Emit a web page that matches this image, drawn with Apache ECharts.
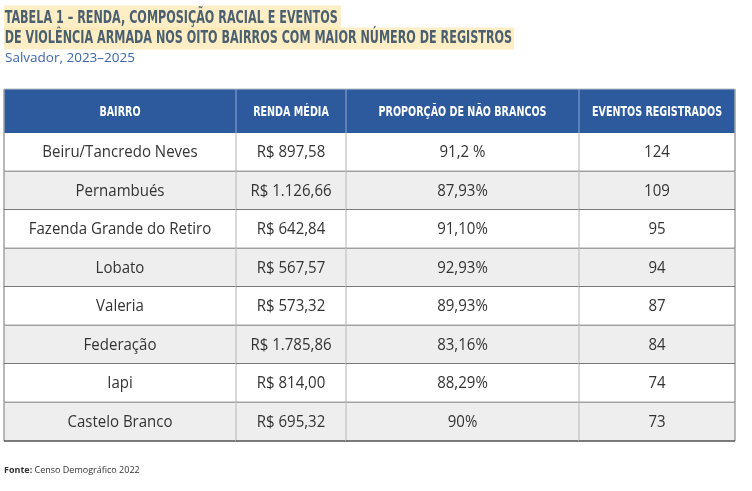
<!DOCTYPE html>
<html>
<head>
<meta charset="utf-8">
<script src="https://cdn.jsdelivr.net/npm/echarts@6/dist/echarts.min.js"></script>
<style>
  html, body { margin: 0; padding: 0; background: #fff; }
  #main { width: 752px; height: 491px; }
</style>
</head>
<body>
<div id="main"></div>
<script>
// dados da tabela
const colunas = ['BAIRRO', 'RENDA MÉDIA', 'PROPORÇÃO DE NÃO BRANCOS', 'EVENTOS REGISTRADOS']
const bairros = ['Beiru/Tancredo Neves', 'Pernambués', 'Fazenda Grande do Retiro', 'Lobato', 'Valeria', 'Federação', 'Iapi', 'Castelo Branco']
const rendaMedia = ['R$ 897,58', 'R$ 1.126,66', 'R$ 642,84', 'R$ 567,57', 'R$ 573,32', 'R$ 1.785,86', 'R$ 814,00', 'R$ 695,32']
const naoBrancos = ['91,2 %', '87,93%', '91,10%', '92,93%', '89,93%', '83,16%', '88,29%', '90%']
const eventos = [124, 109, 95, 94, 87, 84, 74, 73]

// layout (unidades do eixo)
const colEdges = [0, 232, 342, 575, 731]
const headerH = 44
const rowH = 38.5

const bold = "'DejaVu Sans', 'Noto Sans', sans-serif"
const body = "'Open Sans', 'Noto Sans', sans-serif"

const linhas = bairros.map((b, i) => [b, rendaMedia[i], naoBrancos[i], String(eventos[i])])

const bodyData = []
linhas.forEach((row, r) => row.forEach((txt, c) => bodyData.push([c, r, txt])))
const headerData = colunas.map((t, c) => [c, -1, t])

function cellRect (api, c, r) {
  const yTop = r < 0 ? 0 : headerH + r * rowH
  const yBot = r < 0 ? headerH : headerH + (r + 1) * rowH
  const p0 = api.coord([colEdges[c], yTop])
  const p1 = api.coord([colEdges[c + 1], yBot])
  return { x: p0[0], y: p0[1], w: p1[0] - p0[0], h: p1[1] - p0[1] }
}

function line (x1, y1, x2, y2, stroke, w) {
  return { type: 'line', shape: { x1: x1, y1: y1, x2: x2, y2: y2 }, style: { stroke: stroke, lineWidth: w } }
}

function renderCell (params, api) {
  const c = api.value(0)
  const r = api.value(1)
  const isHeader = r < 0
  const item = (isHeader ? headerData : bodyData)[params.dataIndex]
  const box = cellRect(api, c, r)
  const fill = isHeader ? '#2c5a9d' : (r % 2 === 0 ? '#ffffff' : '#eeeeee')
  const children = [
    { type: 'rect', shape: { x: box.x, y: box.y, width: box.w, height: box.h }, style: { fill: fill } },
    {
      type: 'text',
      x: box.x + box.w / 2,
      y: box.y + box.h / 2 + (isHeader ? 1 : 0.5),
      scaleX: isHeader ? 0.71 : 0.91,
      style: {
        x: 0, y: 0,
        text: item[2], align: 'center', verticalAlign: 'middle',
        fill: isHeader ? '#ffffff' : '#333333',
        font: isHeader ? 'bold 13.5px ' + bold : '16.5px ' + body
      }
    }
  ]
  if (c > 0) {
    children.push(line(box.x, box.y, box.x, box.y + box.h, isHeader ? '#7a98c6' : '#c4c4c4', 1.3))
  } else {
    children.push(line(box.x, box.y, box.x, box.y + box.h, '#a0a0a0', 1.5))
  }
  if (c === colunas.length - 1) {
    children.push(line(box.x + box.w, box.y, box.x + box.w, box.y + box.h, '#a0a0a0', 1.5))
  }
  if (!isHeader) {
    children.push(line(box.x, box.y + box.h, box.x + box.w, box.y + box.h, '#525252', 1.5))
  } else {
    children.push(line(box.x, box.y, box.x + box.w, box.y, '#b8bcc4', 1))
  }
  return { type: 'group', children: children }
}

const myChart = echarts.init(document.getElementById('main'), null, { renderer: 'canvas' })
myChart.setOption({
  animation: false,
  backgroundColor: '#ffffff',
  grid: { left: 4, top: 89, width: 731, height: headerH + rowH * bairros.length },
  xAxis: { type: 'value', min: colEdges[0], max: colEdges[colEdges.length - 1], show: false },
  yAxis: { type: 'value', inverse: true, min: 0, max: headerH + rowH * bairros.length, show: false },
  graphic: [
    { type: 'text', x: 4, y: 18, scaleX: 0.64, originX: 0, style: {
      x: 0, y: 0, verticalAlign: 'middle',
      text: 'TABELA 1 – RENDA, COMPOSIÇÃO RACIAL E EVENTOS',
      font: 'bold 17.5px ' + bold, fill: '#4a5f6f',
      backgroundColor: 'rgba(253, 232, 178, 0.75)', padding: [4, 5, 3, 1]
    } },
    { type: 'text', x: 4, y: 38.5, scaleX: 0.64, originX: 0, style: {
      x: 0, y: 0, verticalAlign: 'middle',
      text: 'DE VIOLÊNCIA ARMADA NOS OITO BAIRROS COM MAIOR NÚMERO DE REGISTROS',
      font: 'bold 17.5px ' + bold, fill: '#4a5f6f',
      backgroundColor: 'rgba(253, 232, 178, 0.75)', padding: [2, 3, 2, 1]
    } },
    { type: 'text', x: 5, y: 58, style: {
      x: 0, y: 0, verticalAlign: 'middle',
      text: 'Salvador, 2023–2025', font: '13.5px ' + body, fill: '#3c66ac'
    } },
    { type: 'text', x: 4, y: 470, style: {
      x: 0, y: 0, verticalAlign: 'middle',
      text: '{b|Fonte:} Censo Demográfico 2022',
      font: '9px ' + body, fill: '#333333',
      rich: { b: { fontWeight: 'bold', fontSize: 9, fontFamily: body, fill: '#333333' } }
    } }
  ],
  series: [
    { type: 'custom', renderItem: renderCell, data: headerData, encode: { x: 0, y: 1 }, silent: true },
    { type: 'custom', renderItem: renderCell, data: bodyData, encode: { x: 0, y: 1 }, silent: true }
  ]
})
</script>
</body>
</html>
